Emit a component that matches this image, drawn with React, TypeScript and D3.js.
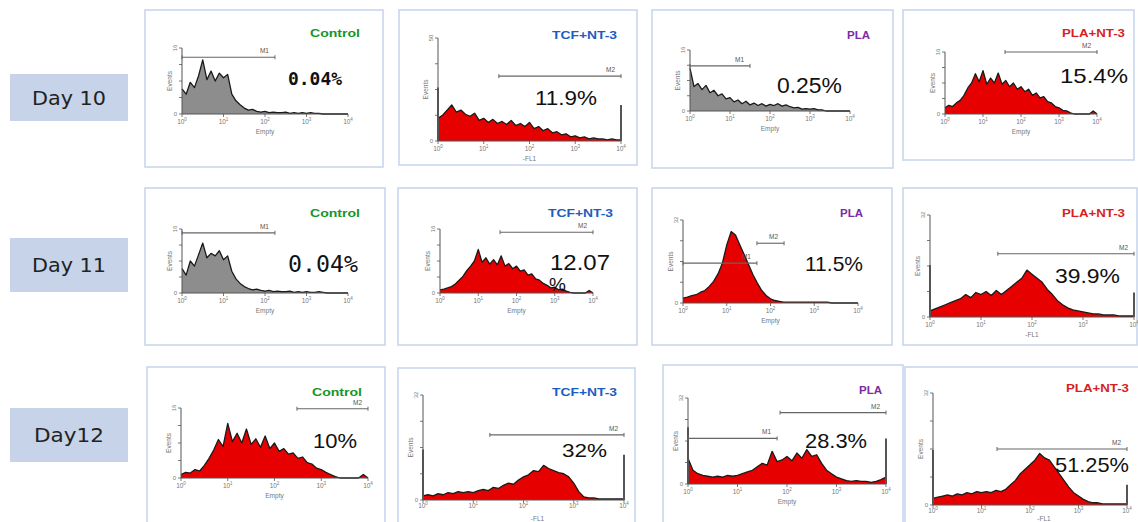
import React from 'react';
import * as d3 from 'd3';

// rows and columns of the figure
const days = ['Day 10', 'Day 11', 'Day12'];
const groups = ['Control', 'TCF+NT-3', 'PLA', 'PLA+NT-3'];
const groupColors = ['#17962a', '#1d5cc0', '#7b2aa6', '#d81f1f'];
const decades = [0, 1, 2, 3, 4];
const yTicks = [0, 25, 50, 75, 100];

// histogram counts as % of the y axis max, one bin every 0.1 decade from 10^0 to 10^4
const day10Control = [38, 30, 48, 40, 58, 82, 52, 65, 50, 62, 55, 60, 30, 20, 14, 9, 6, 7, 4, 3, 4, 2, 3, 2, 2, 3, 1, 2, 1, 2, 1, 2, 1, 1, 0, 0, 0, 0, 0, 0, 0];
const day10Tcf = [22, 25, 30, 35, 28, 30, 26, 24, 27, 20, 22, 18, 21, 17, 19, 16, 20, 15, 17, 14, 18, 12, 14, 10, 12, 8, 9, 6, 7, 4, 5, 3, 4, 2, 3, 2, 2, 1, 2, 1, 1];
const day10Pla = [70, 40, 45, 35, 42, 30, 34, 25, 28, 20, 22, 15, 18, 12, 16, 10, 13, 9, 12, 8, 11, 9, 12, 8, 10, 7, 5, 6, 3, 4, 3, 4, 2, 2, 0, 0, 0, 0, 0, 0, 0];
const day10PlaNt = [10, 14, 12, 18, 22, 30, 42, 50, 65, 52, 70, 48, 58, 50, 66, 48, 54, 44, 50, 40, 44, 36, 40, 30, 34, 26, 28, 20, 18, 12, 10, 6, 5, 2, 0, 0, 0, 0, 0, 5, 0];

const day11Control = [38, 28, 50, 42, 60, 78, 55, 62, 58, 66, 52, 58, 34, 22, 15, 10, 7, 5, 6, 4, 3, 4, 2, 3, 2, 2, 3, 1, 2, 1, 2, 1, 1, 2, 1, 0, 0, 0, 0, 0, 0];
const day11Tcf = [5, 6, 8, 10, 14, 20, 26, 35, 42, 50, 68, 48, 55, 45, 52, 44, 58, 42, 46, 38, 42, 34, 36, 28, 30, 22, 20, 15, 12, 8, 9, 5, 6, 3, 1, 0, 0, 0, 0, 4, 0];
const day11Pla = [6, 7, 9, 10, 13, 15, 20, 26, 35, 48, 70, 86, 82, 70, 58, 46, 34, 24, 15, 9, 5, 3, 2, 1, 1, 1, 1, 1, 1, 1, 1, 1, 1, 1, 0, 0, 0, 0, 0, 0, 0];
const day11PlaNt = [6, 8, 10, 12, 14, 16, 18, 22, 19, 24, 22, 25, 21, 26, 22, 26, 30, 34, 38, 46, 42, 38, 34, 27, 22, 16, 12, 9, 7, 6, 5, 4, 3, 3, 2, 2, 2, 1, 1, 1, 1];

const day12Control = [5, 8, 7, 12, 10, 18, 28, 40, 55, 45, 78, 52, 64, 50, 70, 48, 56, 44, 60, 42, 50, 38, 42, 34, 36, 28, 30, 22, 20, 14, 12, 8, 5, 2, 0, 0, 0, 0, 0, 5, 0];
const day12Tcf = [4, 5, 4, 6, 5, 7, 6, 8, 7, 8, 7, 9, 10, 9, 12, 11, 14, 16, 15, 19, 22, 24, 28, 27, 33, 30, 28, 26, 25, 22, 16, 8, 3, 2, 2, 1, 1, 1, 1, 1, 1];
const day12Pla = [30, 16, 12, 10, 9, 8, 9, 8, 10, 9, 10, 12, 14, 16, 20, 24, 22, 38, 26, 28, 32, 27, 36, 30, 40, 32, 34, 24, 16, 12, 8, 6, 4, 3, 4, 3, 3, 2, 3, 5, 8];
const day12PlaNt = [6, 7, 8, 9, 8, 10, 9, 11, 10, 12, 11, 12, 11, 13, 12, 14, 18, 22, 28, 32, 36, 40, 46, 42, 40, 34, 28, 22, 16, 11, 8, 5, 3, 2, 2, 1, 1, 1, 1, 1, 1];

const histograms = [
  [day10Control, day10Tcf, day10Pla, day10PlaNt],
  [day11Control, day11Tcf, day11Pla, day11PlaNt],
  [day12Control, day12Tcf, day12Pla, day12PlaNt],
];

// off-scale events piled in the first / last channel (% of y max)
const edgeSpikes = [
  [null, [52, 35], null, null],
  [null, null, null, [51, 24]],
  [null, [48, 43], [66, 53], [49, 18]],
];

const percents = [
  ['0.04%', '11.9%', '0.25%', '15.4%'],
  ['0.04%', '12.07%', '11.5%', '39.9%'],
  ['10%', '32%', '28.3%', '51.25%'],
];
const yMaxLabels = [
  ['16', '50', '16', '16'],
  ['16', '16', '32', '32'],
  ['16', '32', '32', '32'],
];
const xAxisLabels = [
  ['Empty', '-FL1', 'Empty', 'Empty'],
  ['Empty', 'Empty', 'Empty', '-FL1'],
  ['Empty', '-FL1', 'Empty', '-FL1'],
];
// marker gates: from / to in decades, level in % of y max
const gates = [
  [
    [{ name: 'M1', from: 0, to: 2.24, level: 86 }],
    [{ name: 'M2', from: 1.33, to: 4, level: 63 }],
    [{ name: 'M1', from: 0, to: 1.5, level: 74 }],
    [{ name: 'M2', from: 1.58, to: 4, level: 100 }],
  ],
  [
    [{ name: 'M1', from: 0, to: 2.24, level: 94 }],
    [{ name: 'M2', from: 1.57, to: 4, level: 95 }],
    [{ name: 'M1', from: 0, to: 1.69, level: 48 }, { name: 'M2', from: 1.69, to: 2.31, level: 72 }],
    [{ name: 'M2', from: 1.33, to: 4, level: 62 }],
  ],
  [
    [{ name: 'M2', from: 2.48, to: 4, level: 99 }],
    [{ name: 'M2', from: 1.33, to: 4, level: 62 }],
    [{ name: 'M1', from: 0, to: 1.8, level: 53 }, { name: 'M2', from: 1.86, to: 4, level: 83 }],
    [{ name: 'M2', from: 1.32, to: 4, level: 50 }],
  ],
];

// layout of the picture (pixels)
const dayBoxes = [
  [10, 74, 118, 47, 74],
  [10, 238, 118, 54, 74],
  [10, 408, 118, 54, 70],
];
const titleWidths = [50, 65, 23, 63];
const frames = [
  [
    { box: [145, 10, 383, 167], plot: [182, 48, 348, 114], title: [360, 37], pct: [288, 85, 54, 18], mono: true, bold: true },
    { box: [399, 10, 637, 165], plot: [438, 38, 621, 141], title: [617, 39], pct: [535, 105, 62, 20] },
    { box: [652, 10, 893, 168], plot: [690, 50, 850, 111], title: [870, 39], pct: [777, 93, 65, 22] },
    { box: [903, 10, 1134, 160], plot: [945, 52, 1097, 114], title: [1125, 37], pct: [1060, 83, 68, 21] },
  ],
  [
    { box: [145, 188, 385, 345], plot: [182, 229, 348, 293], title: [360, 217], pct: [288, 272, 70, 23], mono: true },
    { box: [398, 188, 637, 345], plot: [440, 229, 593, 293], title: [613, 217], pct: [550, 270, 60, 22], wrap: [549, 291] },
    { box: [652, 188, 892, 345], plot: [683, 220, 858, 303], title: [863, 217], pct: [805, 271, 58, 21] },
    { box: [903, 188, 1137, 345], plot: [930, 215, 1134, 317], title: [1125, 217], pct: [1055, 283, 65, 21] },
  ],
  [
    { box: [147, 367, 385, 530], plot: [181, 408, 368, 478], title: [362, 396], pct: [313, 448, 44, 21] },
    { box: [398, 368, 635, 530], plot: [423, 395, 624, 500], title: [617, 396], pct: [562, 457, 45, 19] },
    { box: [663, 365, 903, 530], plot: [688, 398, 886, 484], title: [882, 394], pct: [805, 448, 62, 21] },
    { box: [905, 367, 1140, 530], plot: [933, 393, 1127, 505], title: [1129, 392], pct: [1055, 472, 74, 21] },
  ],
];

function Panel({ frame, values, spikes, title, color, titleWidth, pct, yMax, xLabel, gateList, gray }: any) {
  const [bx0, by0, bx1, by1] = frame.box;
  const [l, t, r, b] = frame.plot;
  const x = d3.scaleLog().domain([1, 1e4]).range([l, r]);
  const y = d3.scaleLinear().domain([0, 100]).range([b, t]);
  const pts = values.map((v: number, i: number) => [Math.pow(10, i / 10), v]);
  const area = d3.area<any>().x(d => x(d[0])).y0(b).y1(d => y(d[1]))(pts);
  const line = d3.line<any>().x(d => x(d[0])).y(d => y(d[1]))(pts);
  const sans = 'Liberation Sans, Arial, sans-serif';
  const wrap = frame.wrap;
  const mainPct = wrap ? pct.replace('%', '') : pct;
  // the bottom row is cut by the picture edge: keep the axis name inside it
  const nearEdge = b + 20 > 518;
  const tickY = nearEdge ? b + 8 : b + 10;
  const nameY = nearEdge ? 521 : b + 20;

  return (
    <g>
      <rect x={bx0} y={by0} width={bx1 - bx0} height={by1 - by0} fill="#fff" stroke="#c9d6ee" strokeWidth={1.6} />
      <text x={frame.title[0]} y={frame.title[1]} textAnchor="end" fill={color} fontFamily={sans}
        fontWeight="bold" fontSize={11} textLength={titleWidth} lengthAdjust="spacingAndGlyphs">{title}</text>

      <path d={area || ''} fill={gray ? '#8d8d8d' : '#e60000'} />
      <path d={line || ''} fill="none" stroke="#1a1a1a" strokeWidth={1.3} strokeLinejoin="round" />
      {spikes && spikes.map((s: number, k: number) => (
        <line key={k} x1={x(k === 0 ? 1 : 1e4)} x2={x(k === 0 ? 1 : 1e4)} y1={b} y2={y(s)} stroke="#555" strokeWidth={2} />
      ))}

      {/* axes */}
      <line x1={l} x2={l} y1={b} y2={t} stroke="#555" strokeWidth={1} />
      <line x1={l} x2={r} y1={b} y2={b} stroke="#555" strokeWidth={1} />
      {yTicks.map(v => (
        <line key={v} x1={l - 3} x2={l} y1={y(v)} y2={y(v)} stroke="#555" strokeWidth={0.8} />
      ))}
      {decades.map(d => (
        <g key={d}>
          <line x1={x(Math.pow(10, d))} x2={x(Math.pow(10, d))} y1={b} y2={b + 3} stroke="#555" strokeWidth={0.8} />
          <text x={x(Math.pow(10, d))} y={tickY} textAnchor="middle" fontFamily={sans} fontSize={6.5} fill="#777">
            10<tspan dy={-3} fontSize={4.5}>{d}</tspan>
          </text>
        </g>
      ))}
      <text x={l - 5} y={b + 2} textAnchor="end" fontFamily={sans} fontSize={6} fill="#777">0</text>
      <text transform={`translate(${l - 5},${t}) rotate(-90)`} textAnchor="middle" fontFamily={sans} fontSize={6} fill="#777">{yMax}</text>
      <text transform={`translate(${l - 10},${(t + b) / 2}) rotate(-90)`} textAnchor="middle" fontFamily={sans} fontSize={6.5} fill="#777">Events</text>
      <text x={(l + r) / 2 + (nearEdge ? 14 : 0)} y={nameY} textAnchor="middle" fontFamily={sans} fontSize={6.5} fill="#777">{xLabel}</text>

      {/* marker gates */}
      {gateList.map((g: any, k: number) => {
        const gx0 = x(Math.pow(10, g.from));
        const gx1 = x(Math.pow(10, g.to));
        const gy = y(g.level);
        return (
          <g key={k}>
            <line x1={gx0} x2={gx1} y1={gy} y2={gy} stroke="#666" strokeWidth={1.1} />
            <line x1={gx0} x2={gx0} y1={gy - 2} y2={gy + 2} stroke="#666" strokeWidth={1} />
            <line x1={gx1} x2={gx1} y1={gy - 2} y2={gy + 2} stroke="#666" strokeWidth={1} />
            <text x={gx1 - 6} y={gy - 4} textAnchor="end" fontFamily={sans} fontSize={6.5} fill="#555">{g.name}</text>
          </g>
        );
      })}

      <text x={frame.pct[0]} y={frame.pct[1]} fontFamily={frame.mono ? 'DejaVu Sans Mono, monospace' : sans}
        fontWeight={frame.bold ? 'bold' : 'normal'} fontSize={frame.pct[3]} fill="#111"
        textLength={frame.pct[2]} lengthAdjust="spacingAndGlyphs">{mainPct}</text>
      {wrap && (
        <text x={wrap[0]} y={wrap[1]} fontFamily={sans} fontSize={frame.pct[3] - 3} fill="#111">%</text>
      )}
    </g>
  );
}

export default function App() {
  return (
    <svg width={1138} height={522} style={{ position: 'absolute', left: 0, top: 0, background: '#fff' }}>
      <rect x={0} y={0} width={1138} height={522} fill="#fff" />
      {days.map((day, i) => {
        const [dx, dy, dw, dh, tw] = dayBoxes[i];
        return (
          <g key={day}>
            <rect x={dx} y={dy} width={dw} height={dh} fill="#c6d3e8" />
            <text x={dx + dw / 2} y={dy + dh / 2 + 7} textAnchor="middle" fontFamily="DejaVu Sans, sans-serif"
              fontSize={19} fill="#222" textLength={tw} lengthAdjust="spacingAndGlyphs">{day}</text>
          </g>
        );
      })}
      {frames.map((row, i) =>
        row.map((frame, j) => (
          <Panel
            key={`${i}-${j}`}
            frame={frame}
            values={histograms[i][j]}
            spikes={edgeSpikes[i][j]}
            title={groups[j]}
            color={groupColors[j]}
            titleWidth={titleWidths[j]}
            pct={percents[i][j]}
            yMax={yMaxLabels[i][j]}
            xLabel={xAxisLabels[i][j]}
            gateList={gates[i][j]}
            gray={i < 2 && (j === 0 || (i === 0 && j === 2))}
          />
        ))
      )}
    </svg>
  );
}
